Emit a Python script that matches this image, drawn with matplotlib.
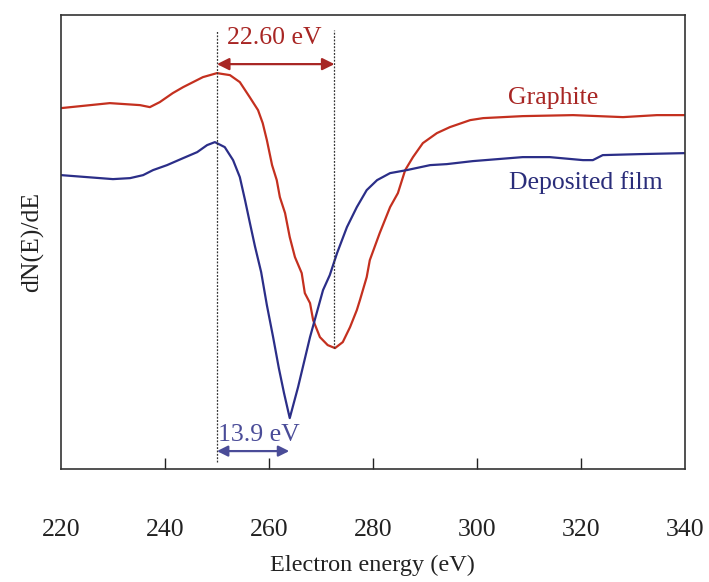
import matplotlib
matplotlib.use("Agg")
import matplotlib.pyplot as plt

plt.rcParams['font.family'] = ['Liberation Serif', 'DejaVu Serif']

# Electron energy (eV) and derivative AES signal dN(E)/dE (arbitrary units)
graphite_energy = [220.0, 229.4, 235.2, 237.1, 239.0, 241.5, 243.5, 245.4, 247.3, 250.0,
                   252.5, 254.4, 256.3, 257.9, 258.8, 259.6, 260.6, 261.5, 262.1, 263.1,
                   264.0, 265.0, 266.3, 266.9, 267.9, 268.5, 269.8, 271.3, 272.7, 274.2,
                   275.6, 276.9, 277.5, 278.8, 279.4, 281.3, 283.3, 284.8, 286.2, 287.7,
                   289.6, 292.3, 294.8, 298.7, 301.2, 308.8, 318.5, 328.1, 334.6, 340.0]
graphite_signal = [361, 366, 364, 362, 367, 376, 382, 387, 392, 396,
                   394, 387, 372, 359, 346, 329, 304, 289, 272, 256,
                   232, 212, 196, 176, 166, 149, 132, 124, 121, 127,
                   142, 159, 169, 192, 209, 236, 262, 276, 299, 312,
                   326, 336, 342, 349, 351, 353, 354, 352, 354, 354]

film_energy = [220.0, 230.0, 233.3, 235.8, 237.7, 240.4, 243.5, 246.2, 248.1, 249.6,
               251.5, 253.1, 254.4, 255.4, 256.3, 257.3, 258.5, 259.6, 260.8, 261.9,
               262.9, 264.0, 265.6, 267.9, 270.4, 271.7, 273.1, 275.0, 276.9, 278.8,
               280.8, 283.3, 286.5, 291.0, 294.2, 299.2, 308.8, 314.0, 320.4, 322.3,
               324.2, 331.3, 340.0]
film_signal = [294, 290, 291, 294, 299, 304, 311, 317, 324, 327,
               322, 309, 292, 269, 247, 223, 197, 164, 132, 101,
               76, 51, 82, 132, 179, 194, 216, 242, 262, 279,
               289, 296, 299, 304, 305, 308, 312, 312, 309, 309,
               314, 315, 316]

# Peak-to-peak widths
graphite_max_e, graphite_min_e = 250.0, 272.6
film_max_e, film_min_e = 250.0, 263.9
graphite_width_label = "22.60 eV"
film_width_label = "13.9 eV"

x_ticks = [220, 240, 260, 280, 300, 320, 340]

red = "#c4301f"
blue = "#2b2e88"
red_text = "#a82624"
blue_text = "#2a2d7a"
blue_dim = "#4a4c98"

fig = plt.figure(figsize=(7.09, 5.82), dpi=100)
ax = fig.add_axes([0.086, 0.194, 0.880, 0.780])

ax.plot(graphite_energy, graphite_signal, color=red, lw=1.6)
ax.plot(film_energy, film_signal, color=blue, lw=1.6)

# Guide lines at the peak positions
dash = dict(color="#333333", lw=0.9, linestyle=(0, (1.5, 1.2)))
ax.plot([graphite_max_e, graphite_max_e], [7, 439], **dash)
ax.plot([graphite_min_e, graphite_min_e], [min(graphite_signal), 439], **dash)

# Width arrows
ax.annotate("", xy=(graphite_max_e, 405), xytext=(graphite_min_e, 405),
            arrowprops=dict(arrowstyle="<|-|>", color=red_text, lw=1.6,
                            mutation_scale=18, shrinkA=0, shrinkB=0))
ax.annotate("", xy=(film_max_e, 18), xytext=(film_min_e, 18),
            arrowprops=dict(arrowstyle="<|-|>", color=blue_dim, lw=1.6,
                            mutation_scale=16, shrinkA=0, shrinkB=0))

ax.text(261.0, 431, graphite_width_label, color=red_text, fontsize=18.5,
        ha="center", va="center")
ax.text(258.1, 34, film_width_label, color=blue_dim, fontsize=18.5,
        ha="center", va="center")
ax.text(314.6, 371, "Graphite", color=red_text, fontsize=18.5,
        ha="center", va="center")
ax.text(321.0, 287, "Deposited film", color=blue_text, fontsize=18.5,
        ha="center", va="center")

ax.set_xlim(220, 340)
ax.set_ylim(0, 454)
ax.set_xticks(x_ticks)
ax.set_xticklabels([str(t) for t in x_ticks])
ax.set_yticks([])
ax.tick_params(axis="x", direction="in", length=8, width=1.0, pad=36,
               labelsize=18.5, colors="#222222")
# edge ticks coincide with the side frames
xt = ax.xaxis.get_major_ticks()
for t in (xt[0], xt[-1]):
    t.tick1line.set_visible(False)
for s in ax.spines.values():
    s.set_color("#333333")
    s.set_linewidth(1.2)

ax.set_xlabel("Electron energy (eV)", fontsize=17.5, color="#222222", labelpad=10)
ax.set_ylabel("dN(E)/dE", fontsize=18.5, color="#222222", labelpad=12)

fig.savefig("out.png", dpi=100)
